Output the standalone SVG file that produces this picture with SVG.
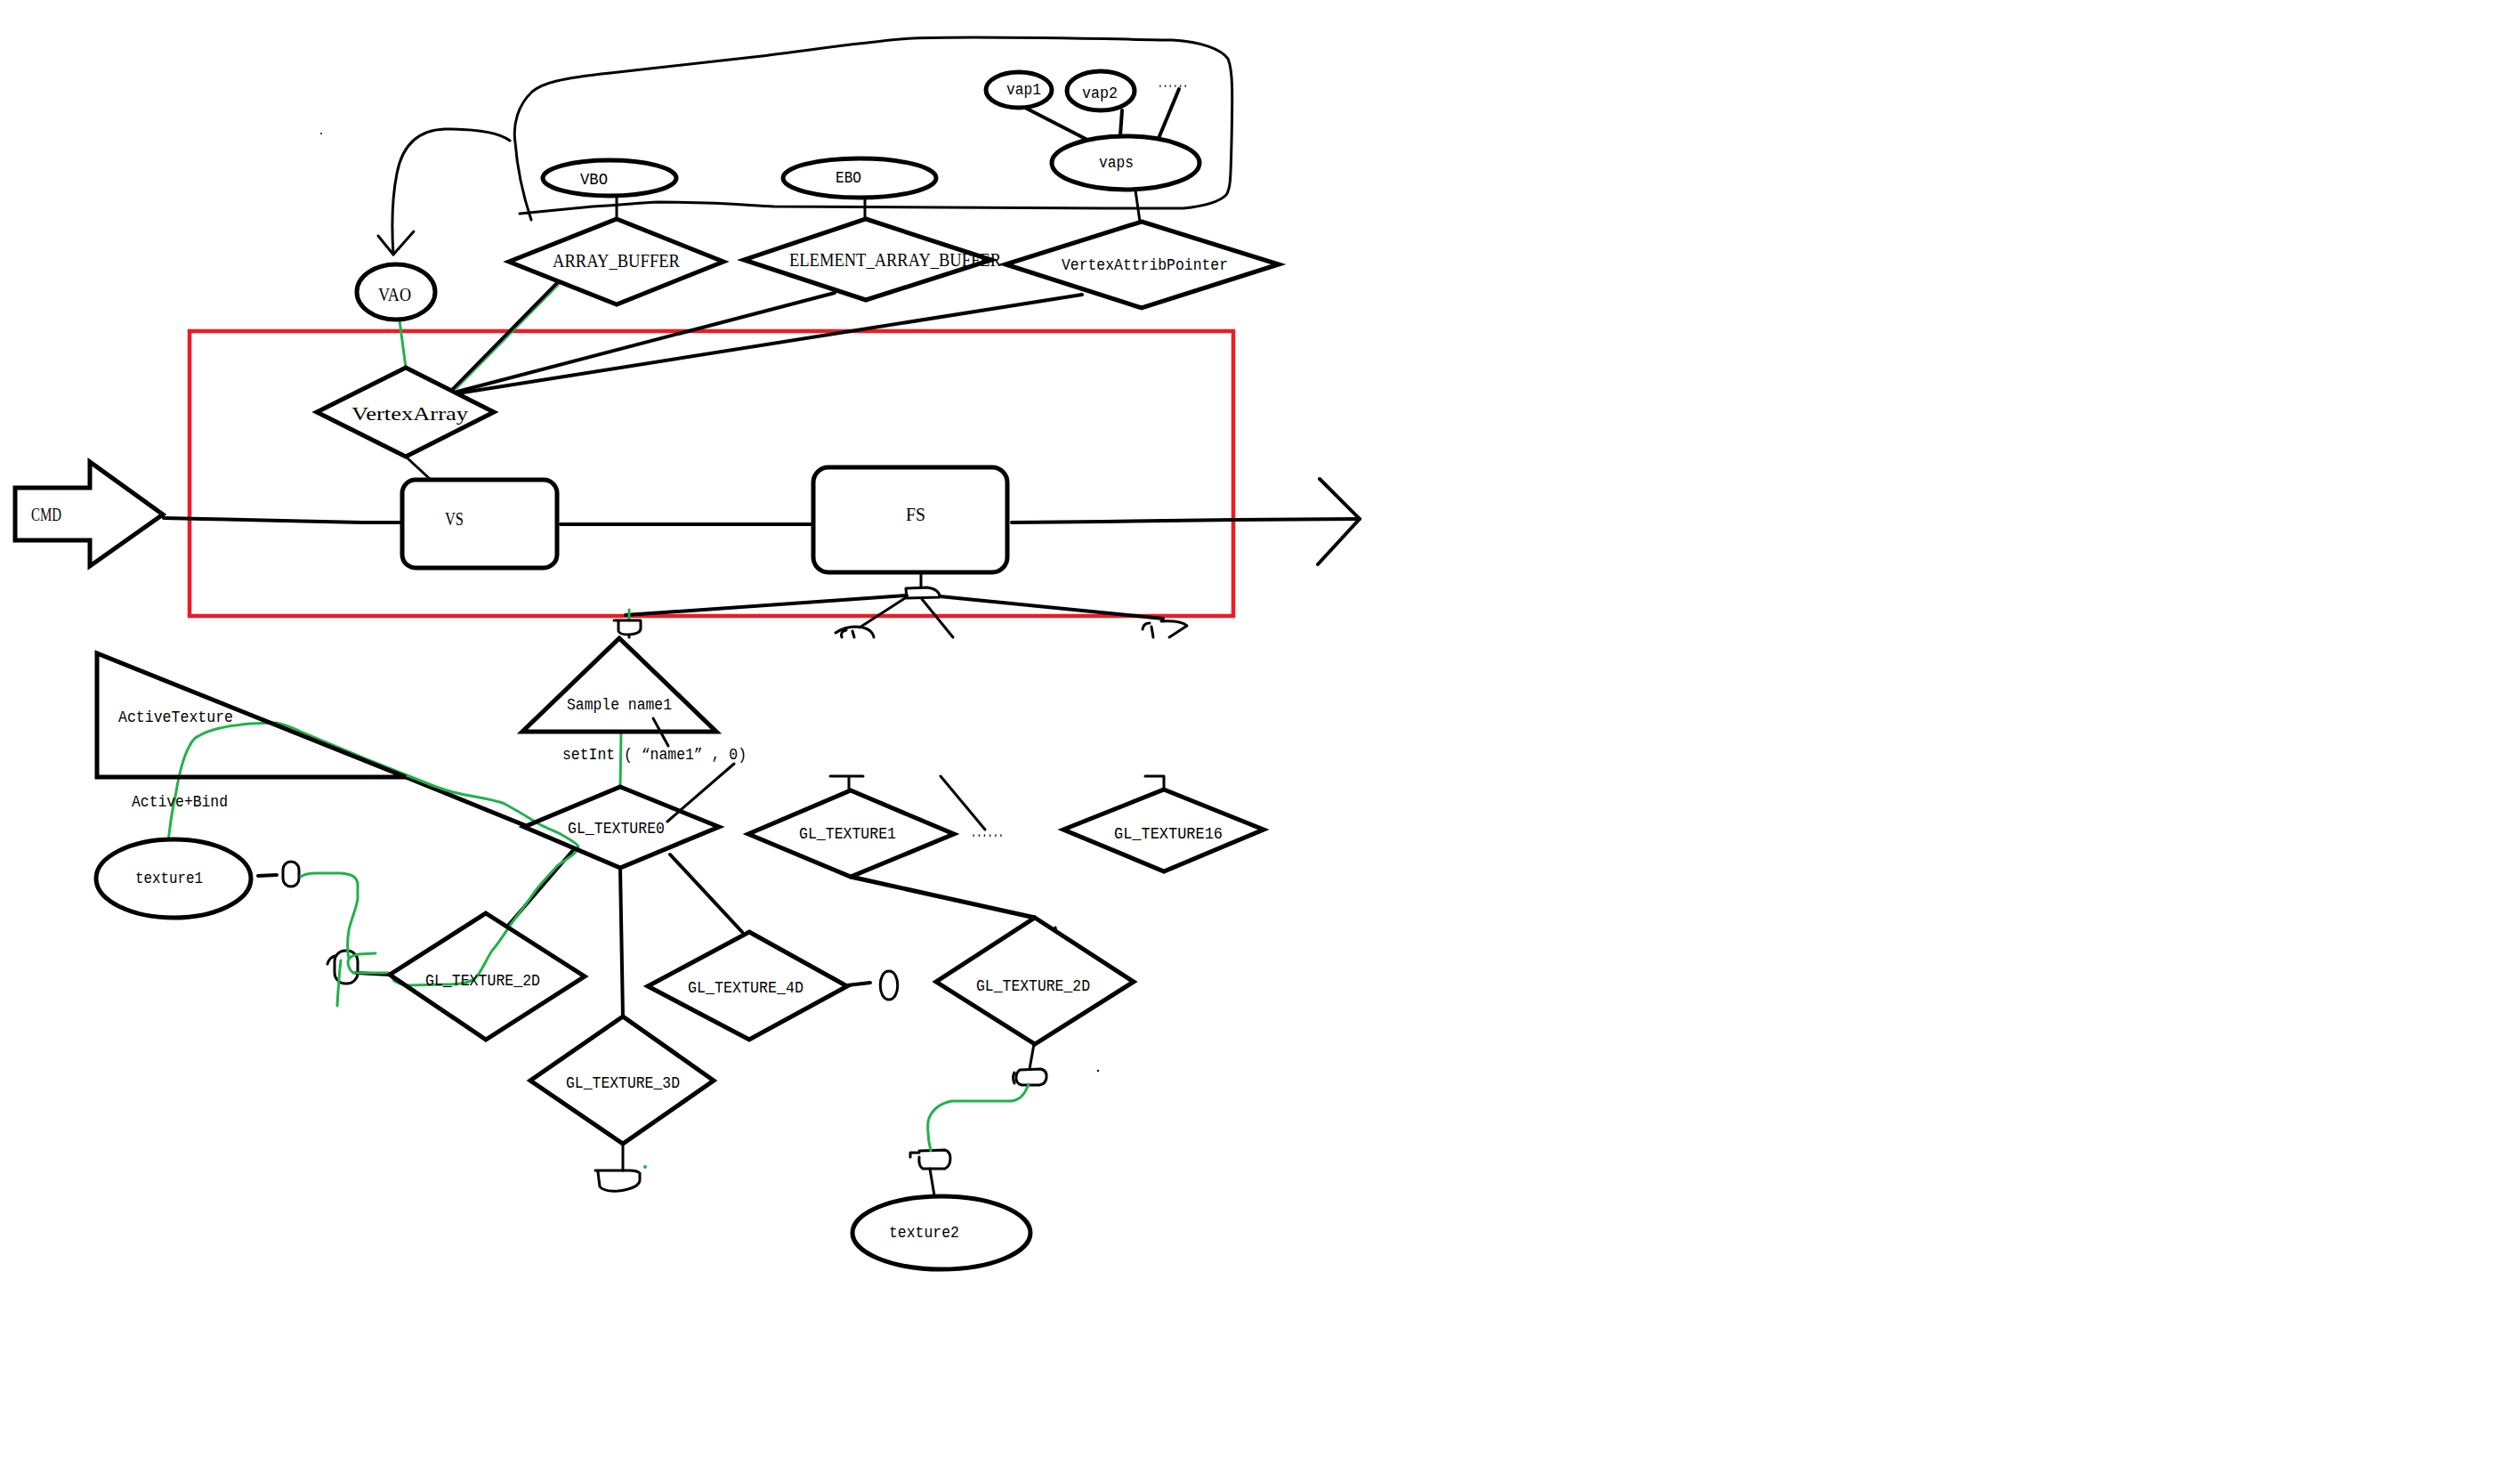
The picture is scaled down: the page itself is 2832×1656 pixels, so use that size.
<svg xmlns="http://www.w3.org/2000/svg" width="2832" height="1656" viewBox="0 0 2832 1656">
  <style>
    .shape { fill: none; stroke: #000; stroke-width: 5; stroke-linejoin: miter; }
    .fillw { fill: #fff; }
    .line { fill: none; stroke: #000; stroke-width: 4; stroke-linecap: round; stroke-linejoin: round; }
    .thin { fill: none; stroke: #000; stroke-width: 3; stroke-linecap: round; stroke-linejoin: round; }
    .green { fill: none; stroke: #22b14c; stroke-width: 3; stroke-linecap: round; stroke-linejoin: round; }
    .frame { fill: none; stroke: #ed1c24; stroke-width: 4.5; }
    .serif { font-family: "Liberation Serif", "Times New Roman", serif; font-size: 22px; fill: #000; }
    .mono { font-family: "Liberation Mono", "DejaVu Sans Mono", monospace; font-size: 18px; fill: #000; }
  </style>

  <rect width="2832" height="1656" fill="#fff"/>

  <!-- pipeline frame -->
  <rect class="frame" x="213" y="372" width="1173" height="320"/>

  <!-- connectors -->
  <g id="connectors">
    <!-- loop around the buffer bindings, with arrow down to VAO -->
    <path class="thin" d="M597,247 C592,232 582,200 579,160 C576,140 582,118 598,103 C610,93 630,88 686,82 L856,63 C920,55 980,46 1026,43 C1100,40 1250,44 1318,45 C1350,47 1372,55 1380,66 C1386,80 1385,110 1384,160 C1383,200 1383,212 1378,219 C1370,227 1350,232 1330,234 L1244,234 L870,232 C840,231 820,227 740,227 C715,228 705,230 666,232 L584,240"/>
    <path class="thin" d="M573,158 C562,150 540,145 500,145 C470,146 452,163 446,195 C440,225 440,255 442,286"/>
    <path class="thin" d="M425,265 L442,286 L465,260"/>
    <!-- buffer objects to their targets -->
    <line class="thin" x1="693" y1="220" x2="693" y2="246"/>
    <line class="thin" x1="972" y1="222" x2="972" y2="246"/>
    <line class="thin" x1="1276" y1="214" x2="1281" y2="249"/>
    <line class="line" x1="1152" y1="121" x2="1222" y2="157"/>
    <line class="line" x1="1261" y1="124" x2="1259" y2="152"/>
    <line class="line" x1="1325" y1="100" x2="1303" y2="153"/>
    <!-- targets to VertexArray -->
    <line class="line" x1="628" y1="316" x2="509" y2="437"/>
    <line x1="631" y1="317" x2="512" y2="438" stroke="#22b14c" stroke-width="1.5"/>
    <line class="line" x1="938" y1="329" x2="514" y2="440"/>
    <line class="line" x1="1216" y1="331" x2="514" y2="442"/>
    <line class="green" x1="449" y1="360" x2="456" y2="413"/>
    <line class="thin" x1="456" y1="513" x2="483" y2="538"/>
    <!-- main pipeline -->
    <polyline class="line" points="184,582 228,583 318,585 407,587 451,587"/>
    <line class="line" x1="630" y1="589" x2="913" y2="589"/>
    <polyline class="line" points="1137,587 1240,586 1386,584 1528,583"/>
    <path class="line" d="M1483,538 L1528,583 L1481,634"/>
    <!-- fragment shader fan-out -->
    <line class="thin" x1="1035" y1="642" x2="1035" y2="660"/>
    <path class="thin" d="M1018,661 L1042,660 Q1056,662 1056,671 L1019,672 Z"/>
    <line class="line" x1="1019" y1="669" x2="703" y2="691"/>
    <line class="line" x1="1056" y1="670" x2="1307" y2="695"/>
    <line class="thin" x1="1017" y1="672" x2="966" y2="705"/>
    <line class="thin" x1="1036" y1="673" x2="1071" y2="716"/>
    <line class="green" x1="707" y1="685" x2="707" y2="696"/>
    <path class="thin" d="M690,697 L720,697 M695,698 L695,709 Q696,713 707,713 Q720,712 720,706 L720,698 M707,713 L707,716"/>
    <path class="thin" d="M939,711 Q949,704 962,704 Q980,705 982,716 M946,716 Q944,709 951,708 M958,709 L960,716"/>
    <path class="thin" d="M1284,707 Q1285,700 1292,700 M1294,704 L1296,716 M1305,698 Q1328,697 1334,703 L1314,716"/>
    <!-- sampler uniform -->
    <line class="green" x1="698" y1="823" x2="697" y2="884"/>
    <line class="thin" x1="734" y1="807" x2="751" y2="838"/>
    <line class="thin" x1="825" y1="858" x2="750" y2="923"/>
    <!-- ActiveTexture edge -->
    <line class="shape" x1="456" y1="873" x2="594" y2="929"/>
    <!-- texture unit 0 to its targets -->
    <line class="line" x1="645" y1="954" x2="570" y2="1041"/>
    <path class="line" d="M697,975 C698,1040 699,1100 700,1142"/>
    <line class="line" x1="753" y1="960" x2="834" y2="1047"/>
    <line class="line" x1="400" y1="1093" x2="438" y2="1095"/>
    <line class="line" x1="952" y1="1107" x2="978" y2="1104"/>
    <path class="thin" d="M999,1091 C1012,1091 1012,1123 999,1123 C986,1123 986,1091 999,1091 Z"/>
    <line class="line" x1="290" y1="984" x2="311" y2="983"/>
    <rect class="thin" x="318" y="968" width="18" height="28" rx="9"/>
    <path class="thin" d="M368,1083 Q370,1076 376,1074"/>
    <rect class="thin" x="376" y="1068" width="26" height="37" rx="12"/>
    <line class="thin" x1="700" y1="1285" x2="700" y2="1315"/>
    <path class="thin" d="M669,1315 L708,1315 M672,1317 L674,1333 Q678,1339 695,1338 Q718,1335 719,1326 L719,1318 Q716,1315 708,1315"/>
    <!-- other units -->
    <path class="thin" d="M933,872 L970,872 M954,872 L954,888"/>
    <line class="thin" x1="1057" y1="872" x2="1107" y2="932"/>
    <path class="thin" d="M1287,872 L1308,872 L1308,887"/>
    <line class="shape" x1="956" y1="985" x2="1163" y2="1031" stroke-width="6"/>
    <line class="thin" x1="1186" y1="1042" x2="1187" y2="1047"/>
    <line class="thin" x1="1162" y1="1173" x2="1157" y2="1201"/>
    <path class="thin" d="M1140,1217 Q1137,1210 1140,1205 M1146,1202 L1170,1201 Q1177,1203 1176,1211 Q1175,1218 1168,1219 L1148,1219 Q1141,1217 1142,1209 Q1143,1204 1146,1202 Z"/>
    <path class="thin" d="M1023,1300 L1023,1295 L1033,1295 M1033,1293 L1062,1292 Q1068,1294 1068,1301 Q1068,1310 1062,1313 L1037,1313 Q1032,1310 1033,1300"/>
    <line class="thin" x1="1045" y1="1313" x2="1050" y2="1343"/>
    <path class="green" d="M1156,1218 C1152,1228 1148,1235 1137,1237 L1070,1237 C1058,1239 1046,1246 1043,1260 C1042,1275 1044,1285 1046,1293"/>
    <!-- binding paths -->
    <path class="green" d="M188,953 C191,930 193,910 197,895 C201,870 206,850 213,838 C217,830 220,828 223,827 C235,820 250,816 281,813 L310,812 C322,814 330,818 340,823 L412,853 L485,882 C505,890 520,893 534,895 C550,898 560,900 567,903 C580,910 590,916 601,923 C612,930 625,934 630,937 C640,943 648,947 650,951 C649,956 645,960 640,963 C633,968 630,970 627,972 C615,985 608,992 600,1003 C590,1018 580,1030 573,1040 C565,1052 560,1060 553,1068 C545,1080 540,1095 533,1100 C522,1106 510,1106 500,1106 L457,1107 C450,1106 446,1104 443,1102 C440,1098 439,1094 437,1093 L397,1093 C393,1090 391,1086 391,1080 C392,1075 396,1073 403,1072 L422,1071"/>
    <path class="green" d="M338,985 C342,982 346,981 355,981 L383,981 C395,982 401,985 402,993 L402,1010 C400,1022 394,1035 392,1045 C390,1058 390,1068 392,1077"/>
    <path class="green" d="M383,1079 C381,1095 380,1112 379,1130"/>
    <circle cx="725" cy="1311" r="2" fill="#22b14c"/>
    <circle cx="361" cy="150" r="1" fill="#000"/>
    <circle cx="1234" cy="1203" r="1.2" fill="#000"/>
  </g>

  <!-- CMD input arrow -->
  <g id="cmd">
    <polygon class="shape fillw" points="17,548 101,548 101,519 183,578 101,636 101,607 17,607"/>
    <text class="serif" x="35" y="585" textLength="34" lengthAdjust="spacingAndGlyphs">CMD</text>
  </g>

  <g id="vao">
    <ellipse class="shape fillw" cx="445" cy="328" rx="44" ry="31"/>
    <text class="serif" x="425" y="338" textLength="37" lengthAdjust="spacingAndGlyphs">VAO</text>
  </g>

  <g id="vbo">
    <ellipse class="shape fillw" cx="685" cy="200" rx="75" ry="20"/>
    <text class="mono" x="652" y="207" textLength="31" lengthAdjust="spacingAndGlyphs">VBO</text>
  </g>

  <g id="ebo">
    <ellipse class="shape fillw" cx="966" cy="200" rx="86" ry="22"/>
    <text class="mono" x="939" y="205" textLength="29" lengthAdjust="spacingAndGlyphs">EBO</text>
  </g>

  <g id="vaps">
    <ellipse class="shape fillw" cx="1265" cy="183" rx="83" ry="30"/>
    <text class="mono" x="1235" y="188" textLength="39" lengthAdjust="spacingAndGlyphs">vaps</text>
  </g>

  <g id="vap1">
    <ellipse class="shape fillw" cx="1145" cy="101" rx="37" ry="20"/>
    <text class="mono" x="1131" y="106" textLength="39" lengthAdjust="spacingAndGlyphs">vap1</text>
  </g>

  <g id="vap2">
    <ellipse class="shape fillw" cx="1237" cy="102" rx="38" ry="22"/>
    <text class="mono" x="1216" y="110" textLength="40" lengthAdjust="spacingAndGlyphs">vap2</text>
  </g>

  <g id="vap-more">
    <text class="mono" x="1301" y="98" textLength="34" lengthAdjust="spacingAndGlyphs">......</text>
  </g>

  <g id="array-buffer">
    <polygon class="shape fillw" points="693,246 813,294 693,342 572,294"/>
    <text class="serif" x="621" y="300" textLength="143" lengthAdjust="spacingAndGlyphs">ARRAY_BUFFER</text>
  </g>

  <g id="element-array-buffer">
    <polygon class="shape" points="973,246 1114,292 973,337 836,292"/>
    <text class="serif" x="887" y="299" textLength="238" lengthAdjust="spacingAndGlyphs">ELEMENT_ARRAY_BUFFER</text>
  </g>

  <g id="vertex-attrib-pointer">
    <polygon class="shape fillw" points="1283,249 1437,297 1283,346 1130,297"/>
    <text class="mono" x="1193" y="303" textLength="187" lengthAdjust="spacingAndGlyphs">VertexAttribPointer</text>
  </g>

  <g id="vertex-array">
    <polygon class="shape fillw" points="456,413 555,463 456,513 356,463"/>
    <text class="serif" x="395" y="472" textLength="131" lengthAdjust="spacingAndGlyphs">VertexArray</text>
  </g>

  <g id="vs">
    <rect class="shape fillw" x="452" y="539" width="174" height="99" rx="15"/>
    <text class="serif" x="500" y="590" textLength="21" lengthAdjust="spacingAndGlyphs">VS</text>
  </g>

  <g id="fs">
    <rect class="shape fillw" x="914" y="525" width="218" height="118" rx="17"/>
    <text class="serif" x="1018" y="585" textLength="22" lengthAdjust="spacingAndGlyphs">FS</text>
  </g>

  <g id="sampler">
    <polygon class="shape" points="696,717 805,822 587,822"/>
    <text class="mono" x="637" y="797" textLength="118" lengthAdjust="spacingAndGlyphs">Sample name1</text>
    <text class="mono" x="632" y="853" textLength="207" lengthAdjust="spacingAndGlyphs">setInt ( “name1” , 0)</text>
  </g>

  <g id="active-texture">
    <polyline class="shape" points="456,873 109,873 109,734 456,873"/>
    <text class="mono" x="133" y="811" textLength="129" lengthAdjust="spacingAndGlyphs">ActiveTexture</text>
    <text class="mono" x="148" y="906" textLength="108" lengthAdjust="spacingAndGlyphs">Active+Bind</text>
  </g>

  <g id="texture1">
    <ellipse class="shape fillw" cx="195" cy="987" rx="87" ry="44"/>
    <text class="mono" x="152" y="992" textLength="76" lengthAdjust="spacingAndGlyphs">texture1</text>
  </g>

  <g id="gl-texture0">
    <polygon class="shape" points="697,884 808,929 697,975 589,929"/>
    <text class="mono" x="638" y="936" textLength="109" lengthAdjust="spacingAndGlyphs">GL_TEXTURE0</text>
  </g>

  <g id="gl-texture1">
    <polygon class="shape" points="956,888 1072,937 956,985 841,937"/>
    <text class="mono" x="898" y="942" textLength="109" lengthAdjust="spacingAndGlyphs">GL_TEXTURE1</text>
  </g>

  <g id="gl-texture-more">
    <text class="mono" x="1091" y="940" textLength="37" lengthAdjust="spacingAndGlyphs">......</text>
  </g>

  <g id="gl-texture16">
    <polygon class="shape" points="1308,887 1420,932 1308,979 1195,932"/>
    <text class="mono" x="1252" y="942" textLength="122" lengthAdjust="spacingAndGlyphs">GL_TEXTURE16</text>
  </g>

  <g id="unit0-texture-2d">
    <polygon class="shape" points="546,1026 657,1097 546,1168 438,1095"/>
    <text class="mono" x="478" y="1107" textLength="129" lengthAdjust="spacingAndGlyphs">GL_TEXTURE_2D</text>
  </g>

  <g id="unit0-texture-4d">
    <polygon class="shape" points="842,1047 952,1108 842,1168 728,1108"/>
    <text class="mono" x="773" y="1115" textLength="130" lengthAdjust="spacingAndGlyphs">GL_TEXTURE_4D</text>
  </g>

  <g id="unit0-texture-3d">
    <polygon class="shape" points="700,1142 802,1214 700,1285 596,1214"/>
    <text class="mono" x="636" y="1222" textLength="128" lengthAdjust="spacingAndGlyphs">GL_TEXTURE_3D</text>
  </g>

  <g id="unit1-texture-2d">
    <polygon class="shape" points="1163,1031 1274,1103 1163,1173 1052,1103"/>
    <text class="mono" x="1097" y="1113" textLength="128" lengthAdjust="spacingAndGlyphs">GL_TEXTURE_2D</text>
  </g>

  <g id="texture2">
    <ellipse class="shape fillw" cx="1058" cy="1385" rx="100" ry="41"/>
    <text class="mono" x="999" y="1390" textLength="79" lengthAdjust="spacingAndGlyphs">texture2</text>
  </g>
</svg>
